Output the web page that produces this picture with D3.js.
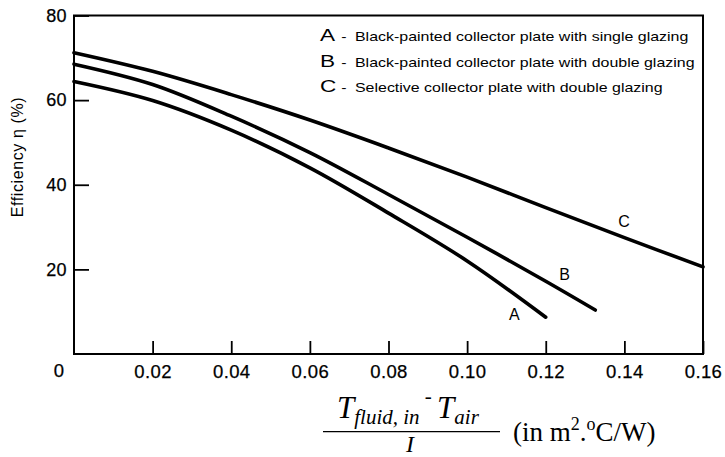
<!DOCTYPE html>
<html>
<head>
<meta charset="utf-8">
<script src="https://cdn.jsdelivr.net/npm/d3@7"></script>
<style>
  body { margin: 0; background: #fff; }
  svg { display: block; }
</style>
</head>
<body>
<svg></svg>
<script>
// values
const xA = [0, 0.02, 0.04, 0.06, 0.08, 0.10, 0.12];
const effA = [64.4, 59.9, 52.9, 44.0, 33.3, 22.0, 8.7];

const xB = [0, 0.02, 0.04, 0.06, 0.08, 0.10, 0.12, 0.1326];
const effB = [68.5, 63.7, 56.2, 47.6, 37.7, 27.6, 17.2, 10.4];

const xC = [0, 0.02, 0.04, 0.06, 0.08, 0.10, 0.12, 0.14, 0.16];
const effC = [71.2, 66.8, 61.3, 55.3, 48.7, 41.8, 34.6, 27.5, 20.6];

const xTicks = [0.02, 0.04, 0.06, 0.08, 0.10, 0.12, 0.14, 0.16];
const yTicks = [20, 40, 60, 80];

const curveNames = ["A", "B", "C"];
const legendText = [
    "Black-painted collector plate with single glazing",
    "Black-painted collector plate with double glazing",
    "Selective collector plate with double glazing"
];

const width = 725, height = 457;
const mLeft = 74, mRight = 703, mTop = 15.5, mBottom = 354;

const svg = d3.select("svg").attr("width", width).attr("height", height);

const x = d3.scaleLinear().domain([0, 0.16]).range([mLeft, mRight]);
const y = d3.scaleLinear().domain([0, 80]).range([mBottom, mTop]);

const sans = "'Liberation Sans', Arial, Helvetica, sans-serif";
const serif = "'Liberation Serif', 'Times New Roman', serif";

// axes, ticks point inward
var gx = svg.append("g")
    .attr("transform", "translate(0," + mBottom + ")")
    .call(d3.axisBottom(x).tickValues(xTicks).tickFormat(d3.format(".2f"))
        .tickSizeInner(-13).tickSizeOuter(0).tickPadding(11));
var gy = svg.append("g")
    .attr("transform", "translate(" + mLeft + ",0)")
    .call(d3.axisLeft(y).tickValues(yTicks)
        .tickSizeInner(-15).tickSizeOuter(0).tickPadding(7));

[gx, gy].forEach(g => {
    g.select(".domain").remove();
    g.selectAll("line").attr("stroke", "#000").attr("stroke-width", 1.8);
    g.selectAll("text").attr("fill", "#000")
        .style("font-family", sans).style("font-size", "18.5px")
        .style("letter-spacing", "0.4px")
        .attr("stroke", "#000").attr("stroke-width", 0.25);
});
gy.selectAll("text").style("font-size", "18px");

// zero label sits apart, below the corner
svg.append("text")
    .attr("x", 59).attr("y", 377)
    .attr("text-anchor", "middle")
    .attr("stroke", "#000").attr("stroke-width", 0.25)
    .style("font-family", sans).style("font-size", "18.5px")
    .text("0");

// frame
svg.append("rect")
    .attr("x", mLeft).attr("y", mTop)
    .attr("width", mRight - mLeft).attr("height", mBottom - mTop)
    .attr("fill", "none").attr("stroke", "#000").attr("stroke-width", 2);

// curves
var line = d3.line()
    .x(d => x(d[0]))
    .y(d => y(d[1]))
    .curve(d3.curveCatmullRom.alpha(0.5));

var series = [
    d3.zip(xA, effA),
    d3.zip(xB, effB),
    d3.zip(xC, effC)
];

svg.append("g").selectAll("path")
    .data(series)
    .enter().append("path")
    .attr("d", line)
    .attr("fill", "none")
    .attr("stroke", "#000")
    .attr("stroke-width", 3.6)
    .attr("stroke-linecap", "round");

// curve letters
var letterPos = [[0.112, 8.1], [0.1248, 17.5], [0.1399, 30.0]];
svg.append("g").selectAll("text")
    .data(letterPos)
    .enter().append("text")
    .attr("x", d => x(d[0]))
    .attr("y", d => y(d[1]))
    .attr("text-anchor", "middle")
    .style("font-family", sans).style("font-size", "16px")
    .text((d, i) => curveNames[i]);

// legend, the lettering is wide so stretch it a bit
var rowY = [41, 66.5, 91.5];
for (var i in curveNames) {
    var row = svg.append("g")
        .attr("transform", "translate(320," + rowY[i] + ") scale(1.33,1)");
    row.append("text")
        .style("font-family", sans).style("font-size", "17px")
        .text(curveNames[i]);
    row.append("text")
        .attr("x", 16)
        .style("font-family", sans).style("font-size", "12px")
        .text("-");
    row.append("text")
        .attr("x", 26.3)
        .style("font-family", sans).style("font-size", "12px")
        .text(legendText[i]);
}

// y title
svg.append("text")
    .attr("transform", "translate(23,157) rotate(-90)")
    .attr("text-anchor", "middle")
    .style("font-family", sans).style("font-size", "16px")
    .style("letter-spacing", "0.6px")
    .text("Efficiency η (%)");

// x title: (T_fluid,in - T_air) / I  (in m2.oC/W)
var num = svg.append("text")
    .attr("x", 337).attr("y", 418)
    .style("font-family", serif).style("font-style", "italic");
num.append("tspan").attr("y", 418).style("font-size", "31px").text("T");
num.append("tspan").attr("y", 424).style("font-size", "21px").text("fluid, in");
num.append("tspan").attr("y", 403).style("font-size", "21px").style("font-style", "normal").text(" - ");
num.append("tspan").attr("y", 418).style("font-size", "31px").text("T");
num.append("tspan").attr("y", 424).style("font-size", "21px").text("air");

svg.append("line")
    .attr("x1", 323).attr("x2", 500)
    .attr("y1", 431.7).attr("y2", 431.7)
    .attr("stroke", "#000").attr("stroke-width", 1.3);

svg.append("text")
    .attr("x", 410).attr("y", 451.5)
    .attr("text-anchor", "middle")
    .style("font-family", serif).style("font-style", "italic").style("font-size", "24px")
    .text("I");

var unit = svg.append("text")
    .attr("x", 513).attr("y", 441)
    .style("font-family", serif).style("font-size", "27px");
unit.append("tspan").attr("y", 441).text("(in m");
unit.append("tspan").attr("y", 430).style("font-size", "18px").text("2");
unit.append("tspan").attr("y", 441).text(".");
unit.append("tspan").attr("y", 430).style("font-size", "18px").text("o");
unit.append("tspan").attr("y", 441).text("C/W)");
</script>
</body>
</html>
